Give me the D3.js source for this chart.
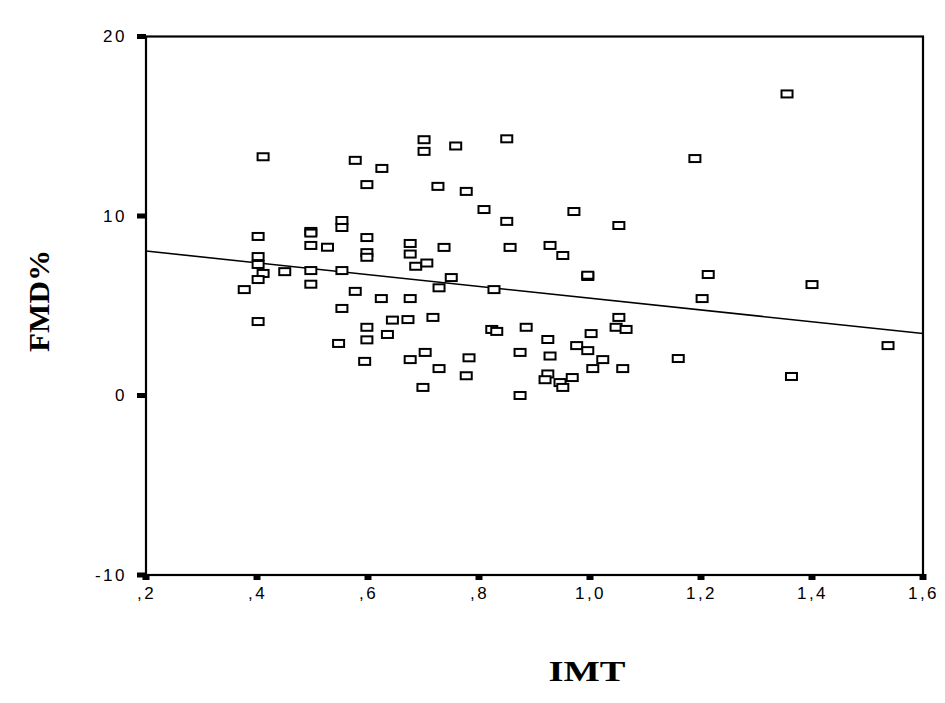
<!DOCTYPE html>
<html><head><meta charset="utf-8">
<script src="https://cdn.jsdelivr.net/npm/d3@7"></script>
<style>body{margin:0;background:#fff}svg{display:block}</style>
</head><body>
<svg id="c" width="945" height="703"></svg>
<script>
const imt = [0.411,0.577,0.625,0.598,0.701,0.701,0.758,0.850,0.726,0.777,0.809,0.850,0.971,1.052,1.189,1.355,
0.402,0.497,0.497,0.497,0.553,0.553,0.527,0.598,0.598,0.598,0.676,0.676,0.737,0.686,0.706,0.856,0.928,0.951,
0.402,0.402,0.411,0.402,0.377,0.402,0.450,0.497,0.497,0.553,0.750,0.728,0.827,0.996,0.996,0.577,0.624,0.676,
1.202,1.213,1.400,0.553,0.644,0.672,0.717,0.598,0.635,0.598,0.547,0.823,0.832,0.885,0.924,1.002,1.052,1.047,
1.065,0.594,0.676,0.703,0.728,0.782,0.777,0.699,0.874,0.928,0.976,0.996,1.023,1.005,1.059,0.924,0.919,0.946,
0.951,0.968,0.874,1.159,1.537,1.363];
const fmd = [13.3,13.1,12.65,11.75,14.25,13.6,13.9,14.3,11.65,11.37,10.36,9.7,10.25,9.47,13.2,16.8,
8.86,9.14,9.05,8.36,9.75,9.36,8.26,8.8,7.96,7.7,8.47,7.88,8.25,7.2,7.38,8.25,8.36,7.8,
7.74,7.3,6.8,6.46,5.9,4.12,6.9,6.96,6.2,6.96,6.57,6.0,5.9,6.63,6.7,5.8,5.4,5.4,
5.4,6.74,6.18,4.85,4.2,4.23,4.35,3.8,3.4,3.1,2.9,3.68,3.57,3.8,3.12,3.45,4.35,3.8,
3.68,1.9,2.0,2.4,1.5,2.1,1.1,0.45,2.4,2.2,2.78,2.5,2.0,1.5,1.5,1.2,0.88,0.72,
0.45,1.0,0.0,2.06,2.78,1.06];
const fitX = [0.2, 1.6];
const fitY = [8.05, 3.45];
const xTicks = [0.2,0.4,0.6,0.8,1.0,1.2,1.4,1.6];
const xTickLabels = [",2",",4",",6",",8","1,0","1,2","1,4","1,6"];
const yTicks = [-10,0,10,20];
const yTickLabels = ["-10","0","10","20"];
const xTitle = "IMT", yTitle = "FMD%";

const svg = d3.select("#c");
const L=146, R=923, T=36.5, B=575;
const x = d3.scaleLinear().domain([0.2,1.6]).range([L,R]);
const y = d3.scaleLinear().domain([-10,20]).range([B,T]);
const tickFont = "Arial, 'Liberation Sans', sans-serif";

// frame
svg.append("rect").attr("x",L).attr("y",T).attr("width",R-L).attr("height",B-T)
  .attr("fill","none").attr("stroke","#000").attr("stroke-width",2.2);

// y ticks
const yAxis = d3.axisLeft(y).tickValues(yTicks).tickSize(0).tickPadding(19)
  .tickFormat((d,i)=>yTickLabels[i]);
const gy = svg.append("g").attr("transform",`translate(${L},0)`).call(yAxis);
gy.select(".domain").remove();
gy.selectAll("text").attr("font-family",tickFont).attr("font-size",17)
  .attr("letter-spacing","2.5px").attr("fill","#000");
svg.selectAll(".ytk").data(yTicks).enter().append("rect")
  .attr("x",L-9).attr("y",d=>y(d)-2.5).attr("width",9).attr("height",5).attr("fill","#000");

// x ticks
const xAxis = d3.axisBottom(x).tickValues(xTicks).tickSize(0).tickPadding(12)
  .tickFormat((d,i)=>xTickLabels[i]);
const gx = svg.append("g").attr("transform",`translate(0,${B})`).call(xAxis);
gx.select(".domain").remove();
gx.selectAll("text").attr("font-family",tickFont).attr("font-size",17)
  .attr("letter-spacing","2.5px").attr("fill","#000");
svg.selectAll(".xtk").data(xTicks).enter().append("rect")
  .attr("x",d=>x(d)-3.5).attr("y",B-1).attr("width",7).attr("height",6).attr("fill","#000");

// fit line
svg.append("path").datum(fitX.map((v,i)=>[v,fitY[i]]))
  .attr("d",d3.line().x(d=>x(d[0])).y(d=>y(d[1])))
  .attr("stroke","#000").attr("stroke-width",1.6).attr("fill","none");

// points
svg.append("g").selectAll("rect").data(imt.map((v,i)=>[v,fmd[i]])).enter().append("rect")
  .attr("x",d=>x(d[0])-5.5).attr("y",d=>y(d[1])-3.5).attr("width",11).attr("height",7)
  .attr("fill","#fff").attr("stroke","#000").attr("stroke-width",2);

// titles
svg.append("text").attr("x",587).attr("y",681).attr("text-anchor","middle")
  .attr("font-family","'Liberation Serif','DejaVu Serif',serif").attr("font-weight","bold").attr("font-size",30)
  .attr("textLength",77).attr("lengthAdjust","spacingAndGlyphs")
  .text(xTitle);
svg.append("text").attr("transform","translate(49,301) rotate(-90)").attr("text-anchor","middle")
  .attr("font-family","'Liberation Serif','DejaVu Serif',serif").attr("font-weight","bold").attr("font-size",30)
  .attr("textLength",102).attr("lengthAdjust","spacingAndGlyphs")
  .text(yTitle);
</script>
</body></html>
